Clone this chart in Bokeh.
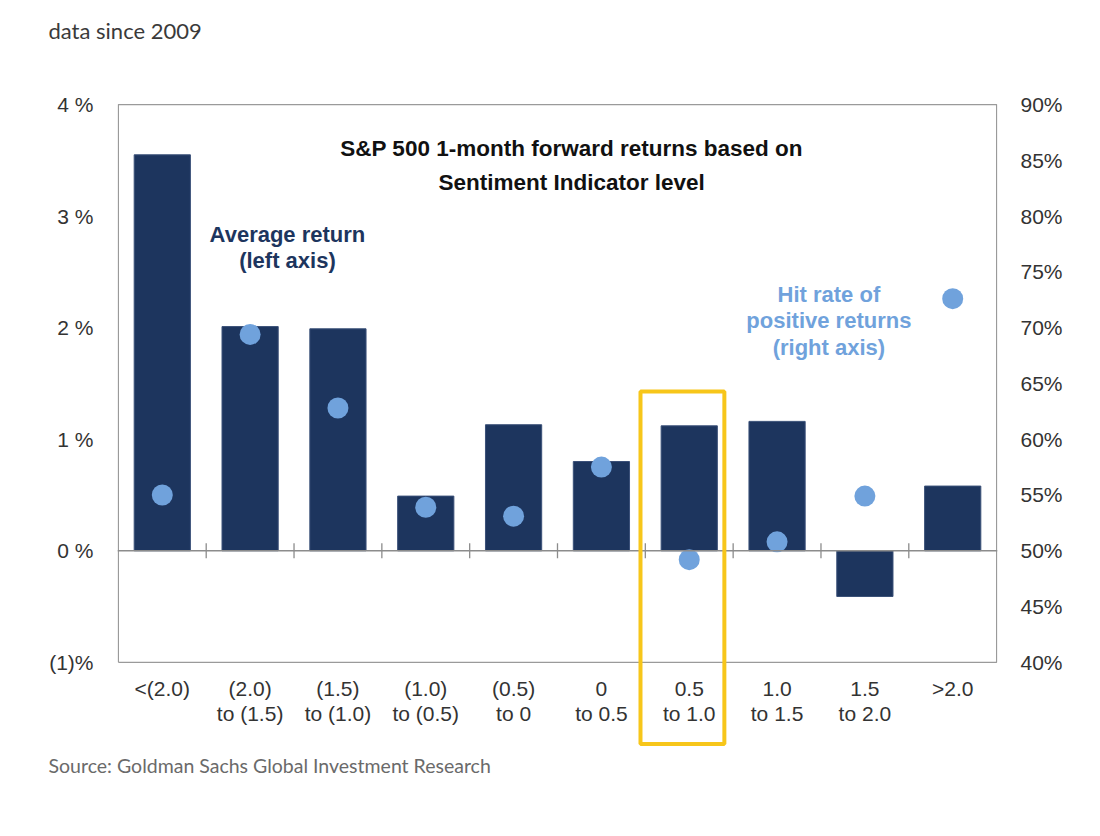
from bokeh.plotting import figure
from bokeh.models import (Range1d, LinearAxis, FixedTicker, Label, Span, BoxAnnotation, Title)
from bokeh.core.properties import value
from bokeh.embed import file_html
from bokeh.resources import INLINE

categories = ["<(2.0)", "(2.0)\nto (1.5)", "(1.5)\nto (1.0)", "(1.0)\nto (0.5)", "(0.5)\nto 0",
              "0\nto 0.5", "0.5\nto 1.0", "1.0\nto 1.5", "1.5\nto 2.0", ">2.0"]
avg_return = [3.55, 2.01, 1.99, 0.49, 1.13, 0.80, 1.12, 1.16, -0.41, 0.58]
hit_rate = [55.0, 69.4, 62.8, 53.9, 53.1, 57.5, 49.2, 50.8, 54.9, 72.6]
left_ticks = [-1, 0, 1, 2, 3, 4]
left_labels = ["(1)%", "0 %", "1 %", "2 %", "3 %", "4 %"]
right_ticks = [40, 45, 50, 55, 60, 65, 70, 75, 80, 85, 90]
highlight_index = 6

NAVY = "#1d355e"
LIGHT = "#70a2dc"
FONT = "Liberation Sans"
TXT = "#333333"
GRAY = "#9a9a9a"

n = len(categories)
xs = list(range(n))

# left axis spans -1..4 (%); right axis spans 40..90 (%), 10 right units per left unit
L_MIN, L_MAX = -1.755, 4.01
R_MIN, R_MAX = 40 + (L_MIN + 1) * 10, 90 + (L_MAX - 4) * 10

p = figure(width=1084, height=830, output_backend="svg", toolbar_location=None,
           x_range=Range1d(-0.51, n - 0.49), y_range=Range1d(L_MIN, L_MAX),
           min_border_left=117, min_border_right=87, min_border_top=103, min_border_bottom=84)
p.outline_line_color = None
p.xgrid.visible = False
p.ygrid.visible = False
p.background_fill_color = "white"
p.border_fill_color = "white"
p.xaxis.visible = False

p.extra_y_ranges = {"hit": Range1d(R_MIN, R_MAX)}

# left axis
ya = p.yaxis[0]
ya.ticker = FixedTicker(ticks=left_ticks)
ya.major_label_overrides = {t: l for t, l in zip(left_ticks, left_labels)}
ya.axis_line_color = None
ya.major_tick_line_color = None
ya.minor_tick_line_color = None
ya.major_label_standoff = 18
ya.major_label_text_font = FONT
ya.major_label_text_font_size = "21px"
ya.major_label_text_color = TXT

# right axis
ra = LinearAxis(y_range_name="hit", ticker=FixedTicker(ticks=right_ticks))
ra.major_label_overrides = {t: f"{t}%" for t in right_ticks}
ra.axis_line_color = None
ra.major_tick_line_color = None
ra.minor_tick_line_color = None
ra.major_label_standoff = 17
ra.major_label_text_font = FONT
ra.major_label_text_font_size = "21px"
ra.major_label_text_color = TXT
p.add_layout(ra, "right")

# chart frame (plot area box from -1% to 4%)
p.line(x=[-0.5, n - 0.5, n - 0.5, -0.5, -0.5], y=[-1, -1, 4, 4, -1],
       line_color=GRAY, line_width=1.3)

# zero line and category separators
p.add_layout(Span(location=0, dimension="width", line_color="#8c8c8c", line_width=1.3))
seps = [i + 0.5 for i in range(n - 1)]
p.segment(x0=seps, x1=seps, y0=[-0.067] * len(seps), y1=[0.067] * len(seps),
          line_color="#8c8c8c", line_width=1.3)

p.vbar(x=xs, top=avg_return, bottom=0, width=0.64, fill_color=NAVY,
       line_color="#3a5078", line_width=1)
p.scatter(x=xs, y=hit_rate, y_range_name="hit", size=21, fill_color=LIGHT,
          line_color=None)

# category labels below the box
p.text(x=xs, y=[-1.135] * n, text=categories, text_font=value(FONT), text_font_size="21px",
       text_color=TXT, text_align="center", text_baseline="top", text_line_height=1.07)

# highlight box
p.add_layout(BoxAnnotation(left=highlight_index - 0.555, right=highlight_index + 0.40,
                           top=1.427, bottom=-1.733, fill_color=None, fill_alpha=0,
                           line_color="#f7c61a", line_alpha=1.0, line_width=4))

# in-plot texts
p.add_layout(Label(x=4.66, y=3.45, text="S&P 500 1-month forward returns based on\nSentiment Indicator level",
                   text_font=FONT, text_font_style="bold", text_font_size="22.5px",
                   text_color="#111111", text_align="center", text_baseline="middle",
                   text_line_height=1.36))
p.add_layout(Label(x=1.425, y=2.72, text="Average return\n(left axis)",
                   text_font=FONT, text_font_style="bold", text_font_size="22px",
                   text_color=NAVY, text_align="center", text_baseline="middle",
                   text_line_height=1.06))
p.add_layout(Label(x=7.59, y=2.06, text="Hit rate of\npositive returns\n(right axis)",
                   text_font=FONT, text_font_style="bold", text_font_size="22px",
                   text_color=LIGHT, text_align="center", text_baseline="middle",
                   text_line_height=1.06))

# header and source
p.add_layout(Title(text=" ", text_font_size="39px"), "above")
p.add_layout(Title(text="data since 2009", align="left", offset=-69, text_font="Lato",
                   text_font_size="22px", text_font_style="normal", text_color="#3a3a3a"), "above")
p.add_layout(Title(text="Source: Goldman Sachs Global Investment Research", align="left", offset=-69,
                   text_font="Lato", text_font_size="19.5px", text_font_style="normal",
                   text_color="#6a6a6a"), "below")

open("out.html", "w").write(file_html(p, INLINE))
